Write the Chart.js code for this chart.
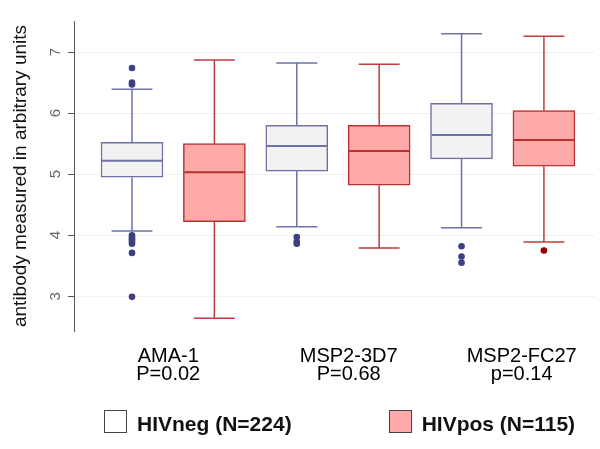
<!DOCTYPE html>
<html>
<head>
<meta charset="utf-8">
<script src="https://cdn.jsdelivr.net/npm/chart.js@4.4.1/dist/chart.umd.min.js"></script>
<style>
  body { margin: 0; background: #fff; }
  #wrap { position: relative; width: 600px; height: 449px; }
  #legend { position: absolute; left: 104px; top: 410px; display: flex; font: bold 21px 'Liberation Sans', Arial, sans-serif; color: #111; }
  .item { display: flex; align-items: flex-start; margin-right: 97px; }
  .swatch { width: 23px; height: 23px; box-sizing: border-box; border: 1.5px solid #444; margin-right: 10px; }
  .item span { line-height: 23px; position: relative; top: 2px; white-space: nowrap; }
</style>
</head>
<body>
<div id="wrap">
  <canvas id="chart" width="600" height="449"></canvas>
  <div id="legend"></div>
</div>
<script>
const groups = ['AMA-1', 'MSP2-3D7', 'MSP2-FC27'];
const pLabels = ['P=0.02', 'P=0.68', 'p=0.14'];

// HIVneg five-number summaries
const negMin = [4.07, 4.14, 4.12];
const negQ1 = [4.95, 5.05, 5.25];
const negMed = [5.22, 5.46, 5.64];
const negQ3 = [5.52, 5.80, 6.16];
const negMax = [6.39, 6.82, 7.30];
const negOutliers = [
    [6.74, 6.50, 6.47, 4.00, 3.97, 3.94, 3.92, 3.89, 3.86, 3.71, 2.99],
    [3.97, 3.89, 3.86],
    [3.82, 3.65, 3.55]
];

// HIVpos five-number summaries
const posMin = [2.64, 3.79, 3.89];
const posQ1 = [4.22, 4.82, 5.13];
const posMed = [5.03, 5.38, 5.56];
const posQ3 = [5.50, 5.80, 6.04];
const posMax = [6.87, 6.80, 7.26];
const posOutliers = [[], [], [3.75]];

const yTicks = [3, 4, 5, 6, 7];
const labelPos = [1.44, 3.63, 5.73];

const font = "'Liberation Sans', Arial, sans-serif";

// boxes sit at 1..6 on the x axis, neg on odd, pos on even
const negX = groups.map((_, i) => 2 * i + 1);
const posX = groups.map((_, i) => 2 * i + 2);

const boxWhiskers = {
    id: 'boxWhiskers',
    afterDatasetsDraw(chart) {
        const ctx = chart.ctx;
        const yScale = chart.scales.y;
        chart.data.datasets.forEach((ds, di) => {
            if (!ds.whiskerLow) return;
            const meta = chart.getDatasetMeta(di);
            ctx.save();
            meta.data.forEach((bar, i) => {
                const {x, width} = bar.getProps(['x', 'width'], true);
                const cap = width * 0.33;
                const yLo = yScale.getPixelForValue(ds.whiskerLow[i]);
                const yHi = yScale.getPixelForValue(ds.whiskerHigh[i]);
                const yQ1 = yScale.getPixelForValue(ds.data[i].y[0]);
                const yQ3 = yScale.getPixelForValue(ds.data[i].y[1]);
                const yMed = yScale.getPixelForValue(ds.medians[i]);
                ctx.strokeStyle = ds.whiskerColor;
                ctx.lineWidth = 1.5;
                ctx.beginPath();
                ctx.moveTo(x, yQ3); ctx.lineTo(x, yHi);
                ctx.moveTo(x - cap, yHi); ctx.lineTo(x + cap, yHi);
                ctx.moveTo(x, yQ1); ctx.lineTo(x, yLo);
                ctx.moveTo(x - cap, yLo); ctx.lineTo(x + cap, yLo);
                ctx.stroke();
                ctx.strokeStyle = ds.borderColor;
                ctx.lineWidth = 2;
                ctx.beginPath();
                ctx.moveTo(x - width / 2 + 1, yMed);
                ctx.lineTo(x + width / 2 - 1, yMed);
                ctx.stroke();
            });
            ctx.restore();
        });
    }
};

const chart = new Chart(document.getElementById('chart').getContext('2d'), {
    type: 'bar',
    data: {
        datasets: [{
            label: 'HIVneg (N=224)',
            data: negX.map((x, i) => ({x: x, y: [negQ1[i], negQ3[i]]})),
            backgroundColor: '#f2f2f2',
            borderColor: '#6e71a6',
            borderWidth: 1.5,
            borderSkipped: false,
            barThickness: 62,
            grouped: false,
            whiskerLow: negMin,
            whiskerHigh: negMax,
            medians: negMed,
            whiskerColor: '#6e71a6',
            legendFill: '#ffffff'
        }, {
            label: 'HIVpos (N=115)',
            data: posX.map((x, i) => ({x: x, y: [posQ1[i], posQ3[i]]})),
            backgroundColor: '#ffaaaa',
            borderColor: '#b8312f',
            borderWidth: 1.5,
            borderSkipped: false,
            barThickness: 62,
            grouped: false,
            whiskerLow: posMin,
            whiskerHigh: posMax,
            medians: posMed,
            whiskerColor: '#c23b3b',
            legendFill: '#ffaaaa'
        }, {
            type: 'scatter',
            label: 'HIVneg outliers',
            data: negOutliers.flatMap((vals, i) => vals.map(v => ({x: negX[i], y: v}))),
            backgroundColor: '#3c3f80',
            borderColor: '#3c3f80',
            pointRadius: 3.3,
            borderWidth: 0
        }, {
            type: 'scatter',
            label: 'HIVpos outliers',
            data: posOutliers.flatMap((vals, i) => vals.map(v => ({x: posX[i], y: v}))),
            backgroundColor: '#990000',
            borderColor: '#990000',
            pointRadius: 3.3,
            borderWidth: 0
        }]
    },
    options: {
        responsive: false,
        animation: false,
        layout: {
            padding: {left: 4, right: 5, top: 21, bottom: 0}
        },
        plugins: {
            legend: {display: false},
            tooltip: {enabled: false}
        },
        scales: {
            x: {
                type: 'linear',
                offset: false,
                min: 0.296,
                max: 6.62,
                grid: {display: false, offset: false},
                border: {display: false},
                afterBuildTicks: (axis) => {
                    axis.ticks = labelPos.map(v => ({value: v}));
                },
                afterFit: (axis) => {
                    axis.height = 118;
                },
                ticks: {
                    autoSkip: false,
                    maxRotation: 0,
                    minRotation: 0,
                    padding: 8,
                    color: '#000',
                    font: {family: font, size: 20, lineHeight: 0.9},
                    callback: (value, index) => [groups[index], pLabels[index]]
                }
            },
            y: {
                min: 2.43,
                max: 7.51,
                afterBuildTicks: (axis) => {
                    axis.ticks = yTicks.map(v => ({value: v}));
                },
                afterFit: (axis) => {
                    axis.width = 70;
                },
                grid: {
                    color: '#f0f0f0',
                    tickColor: '#555',
                    tickLength: 6
                },
                border: {display: true, color: '#555', width: 1},
                ticks: {
                    minRotation: 90,
                    maxRotation: 90,
                    crossAlign: 'center',
                    padding: 8,
                    color: '#666',
                    font: {family: font, size: 15}
                },
                title: {
                    display: true,
                    text: 'antibody measured in arbitrary units',
                    color: '#111',
                    padding: {top: 5, bottom: 0},
                    font: {family: font, size: 19}
                }
            }
        }
    },
    plugins: [boxWhiskers]
});

// legend drawn from the two box datasets
const legendEl = document.getElementById('legend');
chart.data.datasets.slice(0, 2).forEach(ds => {
    const item = document.createElement('div');
    item.className = 'item';
    const sw = document.createElement('div');
    sw.className = 'swatch';
    sw.style.background = ds.legendFill;
    const txt = document.createElement('span');
    txt.textContent = ds.label;
    item.appendChild(sw);
    item.appendChild(txt);
    legendEl.appendChild(item);
});
</script>
</body>
</html>
